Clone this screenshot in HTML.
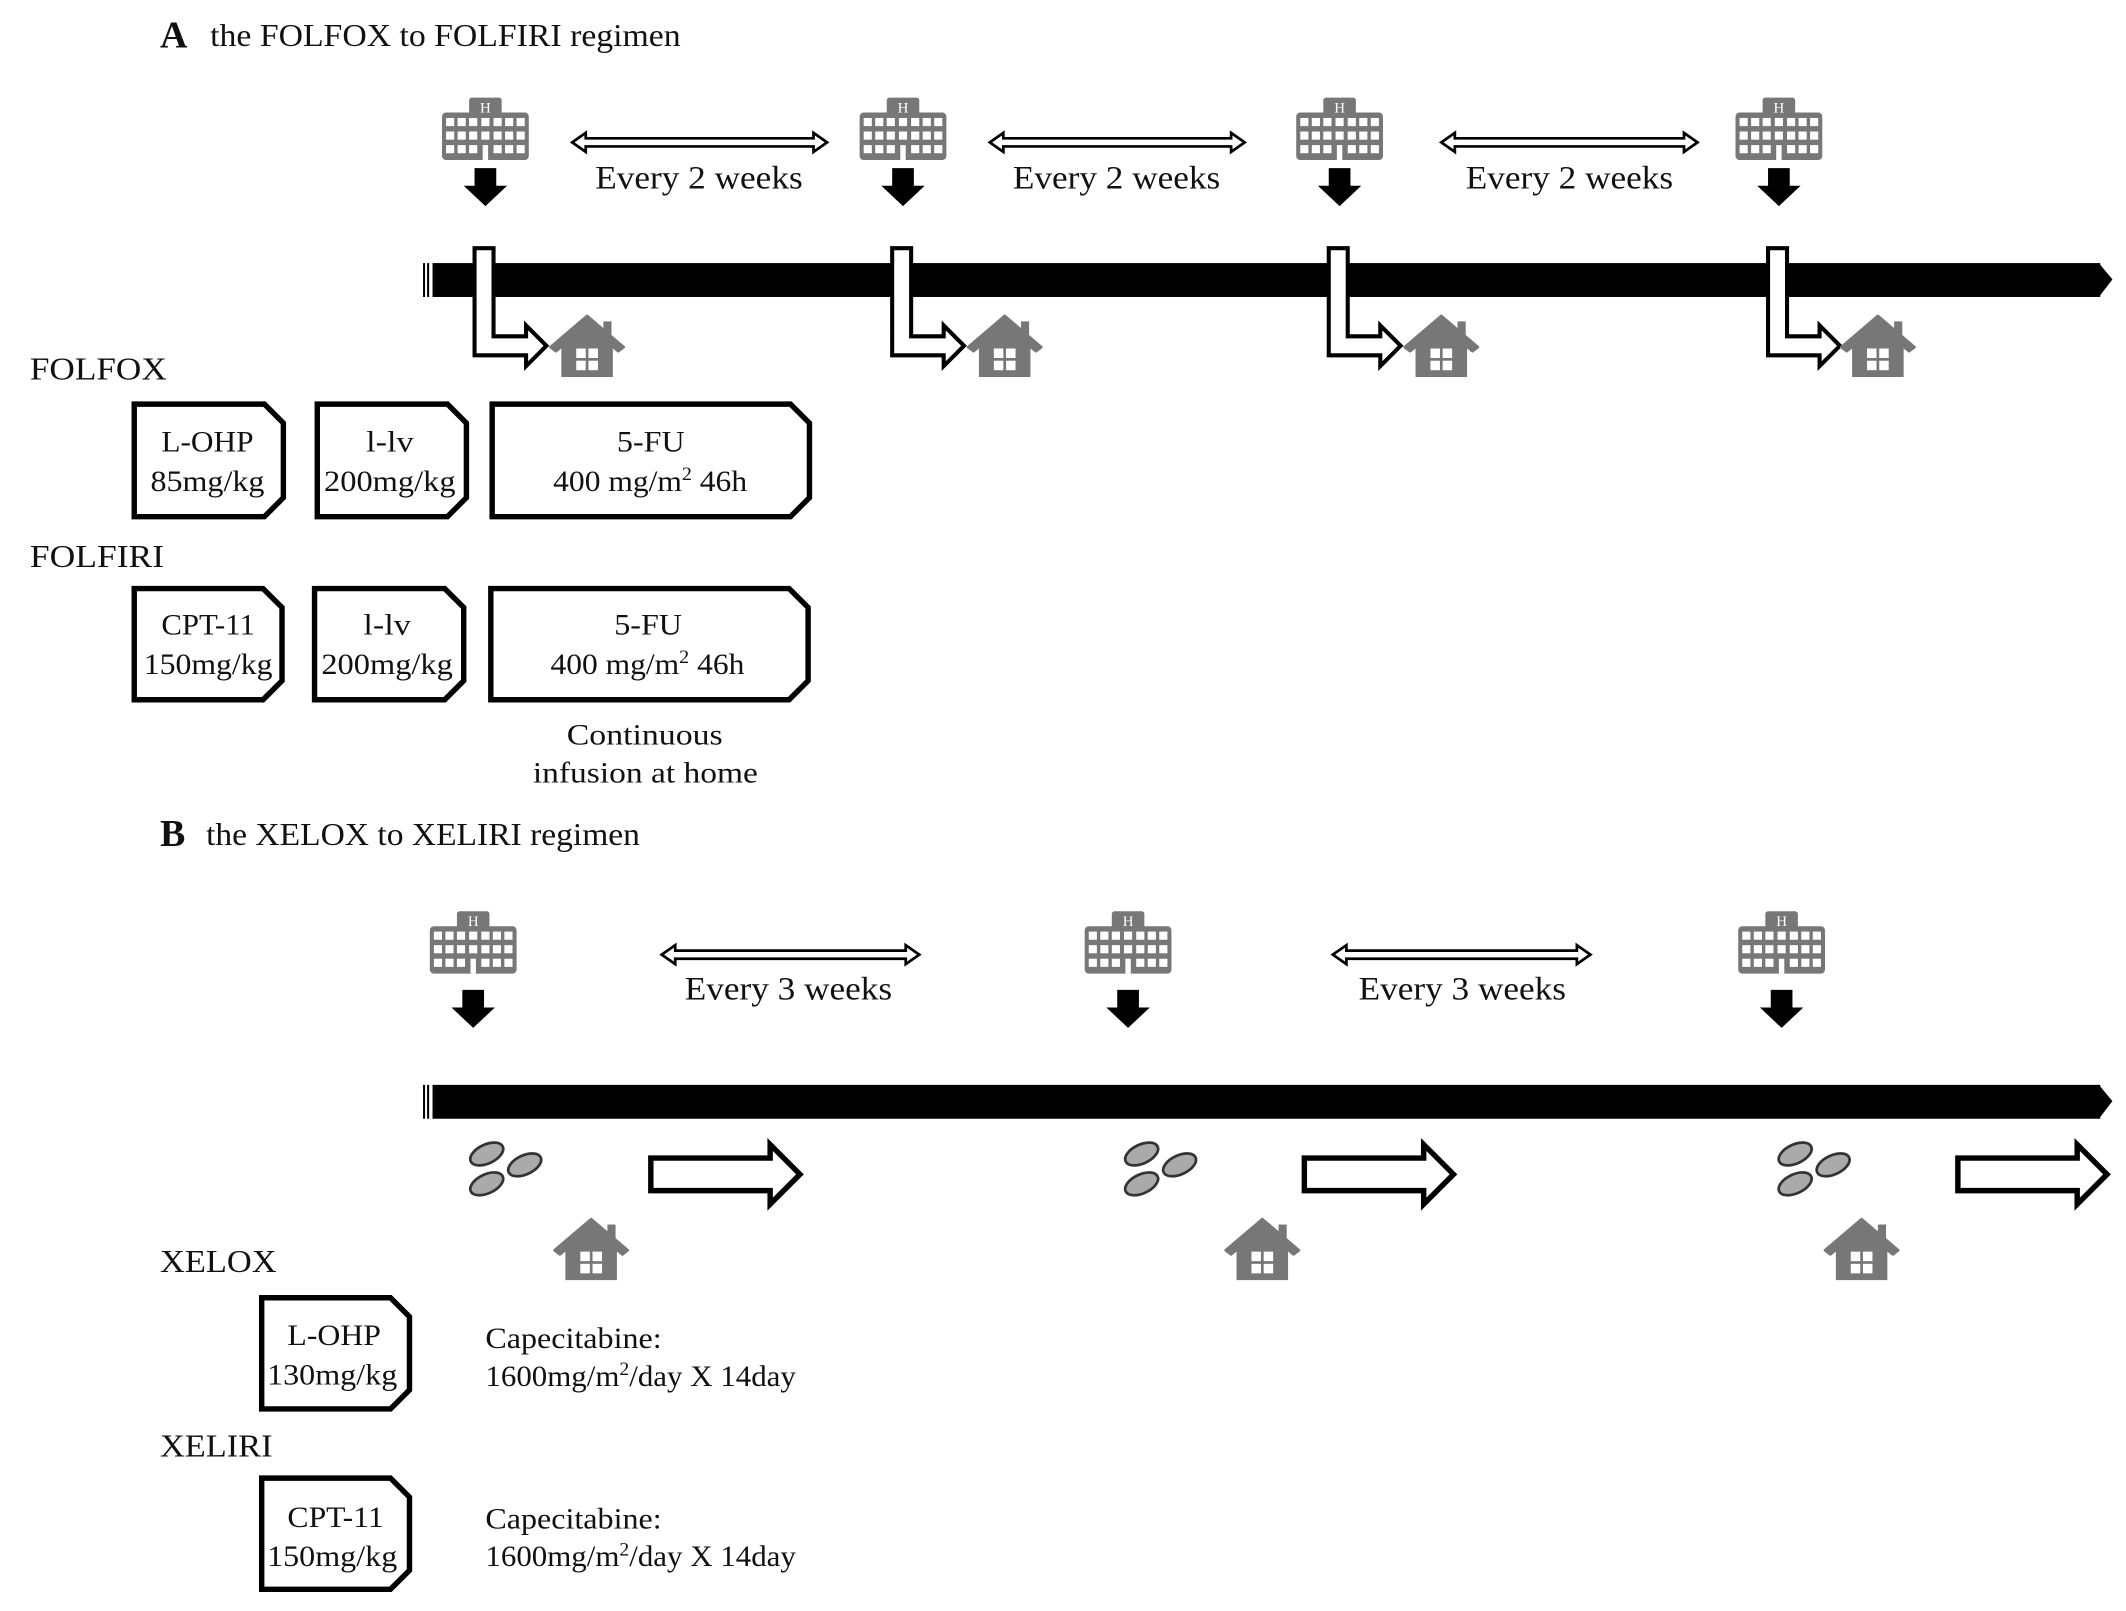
<!DOCTYPE html>
<html><head><meta charset="utf-8"><style>
html,body{margin:0;padding:0;background:#fff;}
svg{display:block;}
text{font-family:"Liberation Serif",serif;fill:#111;}
</style></head><body>
<svg width="2126" height="1611" viewBox="0 0 1568 1188" preserveAspectRatio="none" xmlns="http://www.w3.org/2000/svg">
<defs>
<g id="hosp">
<rect x="-12" y="0" width="24" height="16" rx="2" fill="#777"/>
<rect x="-32" y="11" width="64" height="35" rx="3" fill="#777"/>
<text x="0" y="11" font-size="11" text-anchor="middle" style="fill:#fff">H</text>
<g fill="#fff">
<rect x="-29" y="15" width="6" height="6"/><rect x="-20.5" y="15" width="6" height="6"/><rect x="-12" y="15" width="6" height="6"/><rect x="-3" y="15" width="6" height="6"/><rect x="6" y="15" width="6" height="6"/><rect x="14.5" y="15" width="6" height="6"/><rect x="23" y="15" width="6" height="6"/>
<rect x="-29" y="25" width="6" height="6"/><rect x="-20.5" y="25" width="6" height="6"/><rect x="-12" y="25" width="6" height="6"/><rect x="-3" y="25" width="6" height="6"/><rect x="6" y="25" width="6" height="6"/><rect x="14.5" y="25" width="6" height="6"/><rect x="23" y="25" width="6" height="6"/>
<rect x="-29" y="35" width="6" height="6"/><rect x="-20.5" y="35" width="6" height="6"/><rect x="-12" y="35" width="6" height="6"/><rect x="-2" y="35" width="4" height="11"/><rect x="6" y="35" width="6" height="6"/><rect x="14.5" y="35" width="6" height="6"/><rect x="23" y="35" width="6" height="6"/>
</g>
</g>
<g id="darr"><polygon points="-8,0 8,0 8,13 16,13 0,28 -16,13 -8,13" fill="#000"/></g>
<g id="house">
<rect x="12" y="4" width="6" height="14" fill="#777"/>
<polygon points="-27,23 0,0 27,23 23,26 0,7 -23,26" fill="#777" stroke="#777" stroke-width="2" stroke-linejoin="round"/>
<polygon points="-19,21 0,5 19,21 19,45 -19,45" fill="#777"/>
<g fill="#fff"><rect x="-8" y="24" width="7" height="7"/><rect x="1" y="24" width="7" height="7"/><rect x="-8" y="33" width="7" height="7"/><rect x="1" y="33" width="7" height="7"/></g>
</g>
<g id="pills" fill="#aaa" stroke="#333" stroke-width="2">
<ellipse cx="-14" cy="-11" rx="13" ry="7" transform="rotate(-25 -14 -11)"/>
<ellipse cx="14" cy="-3" rx="13" ry="7" transform="rotate(-25 14 -3)"/>
<ellipse cx="-14" cy="11" rx="13" ry="7" transform="rotate(-25 -14 11)"/>
</g>
</defs>

<!-- Section A -->
<text x="118" y="35" font-size="28" font-weight="bold">A</text>
<text x="155" y="34" font-size="23" textLength="347" lengthAdjust="spacingAndGlyphs">the FOLFOX to FOLFIRI regimen</text>

<use href="#hosp" x="358" y="72"/><use href="#hosp" x="666" y="72"/><use href="#hosp" x="988" y="72"/><use href="#hosp" x="1312" y="72"/>
<use href="#darr" x="358" y="124"/><use href="#darr" x="666" y="124"/><use href="#darr" x="988" y="124"/><use href="#darr" x="1312" y="124"/>

<g fill="#fff" stroke="#000" stroke-width="2">
<polygon points="422,105 432,98 432,102 600,102 600,98 610,105 600,112 600,108 432,108 432,112"/>
<polygon points="730,105 740,98 740,102 908,102 908,98 918,105 908,112 908,108 740,108 740,112"/>
<polygon points="1063,105 1073,98 1073,102 1242,102 1242,98 1252,105 1242,112 1242,108 1073,108 1073,112"/>
</g>
<g font-size="24">
<text x="439" y="139" textLength="153" lengthAdjust="spacingAndGlyphs">Every 2 weeks</text>
<text x="747" y="139" textLength="153" lengthAdjust="spacingAndGlyphs">Every 2 weeks</text>
<text x="1081" y="139" textLength="153" lengthAdjust="spacingAndGlyphs">Every 2 weeks</text>
</g>

<rect x="319" y="194" width="1230" height="25" fill="#000"/>
<polygon points="1548,194 1558,206 1548,219" fill="#000"/>
<rect x="312" y="194" width="1.5" height="25" fill="#000"/><rect x="315" y="194" width="1.5" height="25" fill="#000"/>

<g fill="#fff" stroke="#000" stroke-width="3" stroke-linejoin="miter">
<polygon points="350,183 364,183 364,248 388,248 388,240 403,255 388,270 388,262 350,262"/>
<polygon points="658,183 672,183 672,248 696,248 696,240 711,255 696,270 696,262 658,262"/>
<polygon points="980,183 994,183 994,248 1018,248 1018,240 1033,255 1018,270 1018,262 980,262"/>
<polygon points="1304,183 1318,183 1318,248 1342,248 1342,240 1357,255 1342,270 1342,262 1304,262"/>
</g>
<use href="#house" x="433" y="233"/><use href="#house" x="741" y="233"/><use href="#house" x="1063" y="233"/><use href="#house" x="1385" y="233"/>

<text x="22" y="280" font-size="23" textLength="101" lengthAdjust="spacingAndGlyphs">FOLFOX</text>
<text x="22" y="418" font-size="23" textLength="99" lengthAdjust="spacingAndGlyphs">FOLFIRI</text>

<g fill="#fff" stroke="#000" stroke-width="4" stroke-linejoin="miter">
<polygon points="99,298 195,298 209,312 209,367 195,381 99,381"/>
<polygon points="234,298 330,298 344,312 344,367 330,381 234,381"/>
<polygon points="363,298 583,298 597,312 597,367 583,381 363,381"/>
<polygon points="99,434 194,434 208,448 208,502 194,516 99,516"/>
<polygon points="232,434 328,434 342,448 342,502 328,516 232,516"/>
<polygon points="362,434 582,434 596,448 596,502 582,516 362,516"/>
</g>
<g font-size="22">
<text x="119" y="333" textLength="68" lengthAdjust="spacingAndGlyphs">L-OHP</text><text x="111" y="362" textLength="84" lengthAdjust="spacingAndGlyphs">85mg/kg</text>
<text x="270" y="333" textLength="35" lengthAdjust="spacingAndGlyphs">l-lv</text><text x="239" y="362" textLength="97" lengthAdjust="spacingAndGlyphs">200mg/kg</text>
<text x="455" y="333" textLength="50" lengthAdjust="spacingAndGlyphs">5-FU</text><text x="408" y="362" textLength="143" lengthAdjust="spacingAndGlyphs">400 mg/m<tspan font-size="14" dy="-8">2</tspan><tspan dy="8"> 46h</tspan></text>
<text x="119" y="468" textLength="69" lengthAdjust="spacingAndGlyphs">CPT-11</text><text x="106" y="497" textLength="95" lengthAdjust="spacingAndGlyphs">150mg/kg</text>
<text x="268" y="468" textLength="35" lengthAdjust="spacingAndGlyphs">l-lv</text><text x="237" y="497" textLength="97" lengthAdjust="spacingAndGlyphs">200mg/kg</text>
<text x="453" y="468" textLength="50" lengthAdjust="spacingAndGlyphs">5-FU</text><text x="406" y="497" textLength="143" lengthAdjust="spacingAndGlyphs">400 mg/m<tspan font-size="14" dy="-8">2</tspan><tspan dy="8"> 46h</tspan></text>
<text x="418" y="549" textLength="115" lengthAdjust="spacingAndGlyphs">Continuous</text>
<text x="393" y="577" textLength="166" lengthAdjust="spacingAndGlyphs">infusion at home</text>
</g>

<!-- Section B -->
<text x="118" y="624" font-size="28" font-weight="bold">B</text>
<text x="152" y="623" font-size="23" textLength="320" lengthAdjust="spacingAndGlyphs">the XELOX to XELIRI regimen</text>

<use href="#hosp" x="349" y="672"/><use href="#hosp" x="832" y="672"/><use href="#hosp" x="1314" y="672"/>
<use href="#darr" x="349" y="730"/><use href="#darr" x="832" y="730"/><use href="#darr" x="1314" y="730"/>

<g fill="#fff" stroke="#000" stroke-width="2">
<polygon points="488,704 498,697 498,701 668,701 668,697 678,704 668,711 668,707 498,707 498,711"/>
<polygon points="983,704 993,697 993,701 1163,701 1163,697 1173,704 1163,711 1163,707 993,707 993,711"/>
</g>
<g font-size="24">
<text x="505" y="737" textLength="153" lengthAdjust="spacingAndGlyphs">Every 3 weeks</text>
<text x="1002" y="737" textLength="153" lengthAdjust="spacingAndGlyphs">Every 3 weeks</text>
</g>

<rect x="319" y="800" width="1230" height="25" fill="#000"/>
<polygon points="1548,800 1558,812 1548,825" fill="#000"/>
<rect x="312" y="800" width="1.5" height="25" fill="#000"/><rect x="315" y="800" width="1.5" height="25" fill="#000"/>

<use href="#pills" x="373" y="862"/><use href="#pills" x="856" y="862"/><use href="#pills" x="1338" y="862"/>

<g fill="#fff" stroke="#000" stroke-width="4" stroke-linejoin="miter">
<polygon points="480,854 568,854 568,844 590,866 568,888 568,878 480,878"/>
<polygon points="962,854 1050,854 1050,844 1072,866 1050,888 1050,878 962,878"/>
<polygon points="1444,854 1532,854 1532,844 1554,866 1532,888 1532,878 1444,878"/>
</g>

<use href="#house" x="436" y="899"/><use href="#house" x="931" y="899"/><use href="#house" x="1373" y="899"/>

<text x="118" y="938" font-size="23" textLength="86" lengthAdjust="spacingAndGlyphs">XELOX</text>
<text x="118" y="1074" font-size="23" textLength="83" lengthAdjust="spacingAndGlyphs">XELIRI</text>

<g fill="#fff" stroke="#000" stroke-width="4" stroke-linejoin="miter">
<polygon points="193,957 288,957 302,971 302,1025 288,1039 193,1039"/>
<polygon points="193,1090 288,1090 302,1104 302,1158 288,1172 193,1172"/>
</g>
<g font-size="22">
<text x="212" y="992" textLength="69" lengthAdjust="spacingAndGlyphs">L-OHP</text><text x="197" y="1021" textLength="96" lengthAdjust="spacingAndGlyphs">130mg/kg</text>
<text x="212" y="1126" textLength="71" lengthAdjust="spacingAndGlyphs">CPT-11</text><text x="197" y="1155" textLength="96" lengthAdjust="spacingAndGlyphs">150mg/kg</text>
</g>
<g font-size="22">
<text x="358" y="994" textLength="130" lengthAdjust="spacingAndGlyphs">Capecitabine:</text>
<text x="358" y="1022" textLength="229" lengthAdjust="spacingAndGlyphs">1600mg/m<tspan font-size="14" dy="-8">2</tspan><tspan dy="8">/day X 14day</tspan></text>
<text x="358" y="1127" textLength="130" lengthAdjust="spacingAndGlyphs">Capecitabine:</text>
<text x="358" y="1155" textLength="229" lengthAdjust="spacingAndGlyphs">1600mg/m<tspan font-size="14" dy="-8">2</tspan><tspan dy="8">/day X 14day</tspan></text>
</g>
</svg>
</body></html>
